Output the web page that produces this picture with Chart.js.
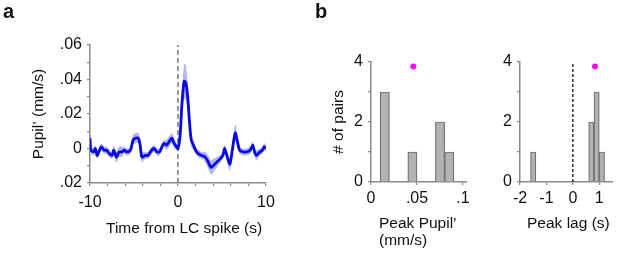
<!DOCTYPE html>
<html>
<head>
<meta charset="utf-8">
<script src="https://cdn.jsdelivr.net/npm/chart.js@4"></script>
<style>
  html, body { margin: 0; padding: 0; background: #fff; }
  #wrap { position: relative; width: 617px; height: 255px; }
  .panel { position: absolute; top: 0; height: 255px; }
</style>
</head>
<body>
<div id="wrap">
  <div class="panel" style="left:0;width:300px"><canvas id="pupilChart"></canvas></div>
  <div class="panel" style="left:300px;width:175px"><canvas id="peakChart"></canvas></div>
  <div class="panel" style="left:475px;width:142px"><canvas id="lagChart"></canvas></div>
</div>
<script>
// panel a: pupil derivative around LC spikes (mean and band half-width, mm/s)
const spikeTimes = [-10, -9.9, -9.6, -9.4, -9.2, -9.0, -8.7, -8.4, -8.1, -7.8, -7.5, -7.3, -7.0, -6.7, -6.4, -6.1,
    -5.8, -5.4, -5.1, -4.8, -4.5, -4.3, -4.1, -3.7, -3.4, -3.0, -2.7, -2.4, -2.1, -1.9, -1.6, -1.3, -1.0, -0.7,
    -0.45, -0.15, 0, 0.23, 0.45, 0.7, 0.9, 1.1, 1.3, 1.5, 1.75, 2.0, 2.3, 2.7, 3.1, 3.45, 3.75, 4.0, 4.4, 4.8,
    5.1, 5.3, 5.6, 5.9, 6.2, 6.5, 6.8, 7.0, 7.4, 7.8, 8.2, 8.5, 8.7, 8.9, 9.3, 9.6, 9.8, 10];
const pupilMean = [0.006, -0.001, -0.002, 0.000, -0.004, -0.002, 0.001, -0.001, -0.001, -0.003, -0.004, -0.001,
    -0.005, -0.002, -0.002, -0.001, -0.002, -0.001, 0.005, 0.006, 0.006, 0.002, -0.005, -0.004, -0.004, -0.001,
    0.000, -0.002, -0.002, 0.000, 0.003, 0.002, 0.004, 0.006, 0.003, 0.001, 0.000, 0.007, 0.026, 0.039, 0.038,
    0.030, 0.016, 0.005, 0.002, -0.001, -0.003, -0.004, -0.005, -0.008, -0.011, -0.010, -0.008, -0.006, -0.004,
    0.000, -0.005, -0.009, 0.000, 0.009, 0.003, -0.001, -0.002, -0.002, -0.001, 0.002, -0.002, -0.004, -0.002,
    -0.001, 0.001, 0.000];
const pupilSem = [0.002, 0.002, 0.002, 0.002, 0.002, 0.002, 0.002, 0.002, 0.002, 0.002, 0.002, 0.003,
    0.003, 0.003, 0.003, 0.002, 0.002, 0.002, 0.003, 0.003, 0.003, 0.003, 0.003, 0.002, 0.002, 0.002,
    0.002, 0.002, 0.002, 0.002, 0.002, 0.003, 0.003, 0.003, 0.003, 0.002, 0.002, 0.003, 0.006, 0.010, 0.010,
    0.008, 0.005, 0.004, 0.003, 0.002, 0.002, 0.002, 0.003, 0.004, 0.004, 0.004, 0.003, 0.002, 0.002,
    0.002, 0.003, 0.004, 0.003, 0.005, 0.003, 0.002, 0.002, 0.002, 0.002, 0.002, 0.002, 0.003, 0.002,
    0.002, 0.002, 0.002];
const pupilYTicks = [-0.02, -0.01, 0, 0.01, 0.02, 0.03, 0.04, 0.05, 0.06];
const pupilYLabels = ['.02', '', '0', '', '.02', '', '.04', '', '.06'];
const pupilXTicks = [-10, -8, -6, -4, -2, 0, 2, 4, 6, 8, 10];
const pupilXLabels = ['-10', '', '', '', '', '0', '', '', '', '', '10'];

// panel b: histograms over pairs
const countTicks = [0, 1, 2, 3, 4];
const countLabels = ['0', '', '2', '', '4'];
const peakBinCenters = [0.015, 0.045, 0.075, 0.085];
const peakCounts = [3, 1, 2, 1];
const peakXTicks = [0, 0.05, 0.1];
const peakXLabels = ['0', '.05', '.1'];
const peakMarker = { x: 0.046, y: 3.85 };
const lagBinCenters = [-1.5, 0.7, 0.9, 1.1];
const lagCounts = [1, 2, 3, 1];
const lagXTicks = [-2, -1, 0, 1];
const lagXLabels = ['-2', '-1', '0', '1'];
const lagMarker = { x: 0.84, y: 3.85 };

const FONT = "'Liberation Sans', Arial, sans-serif";
const AXIS_GRAY = '#8a8a8a';
Chart.defaults.font.family = FONT;
Chart.defaults.font.size = 16;
Chart.defaults.color = '#111';

function axis(o) {
    return {
        type: 'linear',
        min: o.min,
        max: o.max,
        offset: false,
        afterBuildTicks: s => { s.ticks = o.ticks.map(v => ({ value: v })); },
        afterFit: s => { if (s.isHorizontal()) s.height = o.size; else s.width = o.size; },
        border: { display: true, color: AXIS_GRAY, width: 1.5 },
        grid: { display: true, offset: false, drawOnChartArea: false, drawTicks: true, tickLength: 3, color: AXIS_GRAY, lineWidth: 1.2 },
        ticks: { autoSkip: false, maxRotation: 0, padding: o.pad ?? 5, font: { size: 16 }, callback: (v, i) => o.labels[i] },
        title: o.title ? { display: true, text: o.title, font: { size: 15.5 }, padding: { top: 29, bottom: 0 } } : { display: false }
    };
}

// plain text drawn on the canvas (panel letters, x titles)
function textPlugin(items) {
    return {
        id: 'panelText',
        afterDraw(chart) {
            const ctx = chart.ctx;
            ctx.save();
            ctx.fillStyle = '#111';
            ctx.textBaseline = 'alphabetic';
            items.forEach(t => {
                ctx.font = t.font;
                ctx.textAlign = t.align || 'left';
                ctx.fillText(t.text, t.x, t.y);
            });
            ctx.restore();
        }
    };
}

const baseOptions = (padding, scales) => ({
    responsive: true,
    maintainAspectRatio: false,
    animation: false,
    layout: { padding },
    plugins: { legend: { display: false }, tooltip: { enabled: false } },
    scales
});

// ---- panel a ----
new Chart(document.getElementById('pupilChart'), {
    type: 'line',
    data: {
        datasets: [
            {
                data: spikeTimes.map((t, i) => ({ x: t, y: pupilMean[i] })),
                borderColor: '#0a0ae0', borderWidth: 2.8, pointRadius: 0, tension: 0.25, fill: false, order: 0
            },
            {
                data: [{ x: 0, y: -0.02 }, { x: 0, y: 0.06 }],
                borderColor: '#7a7a7a', borderWidth: 1.5, borderDash: [5, 3], pointRadius: 0, fill: false, order: 1
            },
            {
                data: spikeTimes.map((t, i) => ({ x: t, y: pupilMean[i] + pupilSem[i] })),
                borderWidth: 0, pointRadius: 0, tension: 0.25, fill: '+1', backgroundColor: '#b3b6f5', order: 2
            },
            {
                data: spikeTimes.map((t, i) => ({ x: t, y: pupilMean[i] - pupilSem[i] })),
                borderWidth: 0, pointRadius: 0, tension: 0.25, fill: false, order: 3
            }
        ]
    },
    options: baseOptions({ left: 0, top: 45, right: 34, bottom: 0 }, {
        x: axis({ min: -10, max: 10, ticks: pupilXTicks, labels: pupilXLabels, size: 72, pad: 7 }),
        y: axis({ min: -0.02, max: 0.06, ticks: pupilYTicks, labels: pupilYLabels, size: 90, title: 'Pupil\u2019 (mm/s)' })
    }),
    plugins: [textPlugin([
        { text: 'a', x: 3, y: 18, font: `bold 20px ${FONT}` },
        { text: 'Time from LC spike (s)', x: 106, y: 233, font: `15.5px ${FONT}` }
    ])]
});

// ---- panel b, histograms ----
function histDatasets(centers, counts, marker, withZeroLine) {
    const sets = [
        {
            type: 'bar',
            data: centers.map((c, i) => ({ x: c, y: counts[i] })),
            backgroundColor: '#b3b3b3', borderColor: '#6e6e6e', borderWidth: 1.2,
            barPercentage: 1, categoryPercentage: 1, order: 2
        },
        {
            type: 'scatter',
            data: [marker],
            pointRadius: 3, pointBackgroundColor: '#ff00ff', pointBorderWidth: 0, order: 0
        }
    ];
    if (withZeroLine) {
        sets.push({
            type: 'line',
            data: [{ x: 0, y: 0 }, { x: 0, y: 4 }],
            borderColor: '#111', borderWidth: 1.3, borderDash: [3, 2], pointRadius: 0, fill: false, order: 1
        });
    }
    return sets;
}

new Chart(document.getElementById('peakChart'), {
    type: 'bar',
    data: { datasets: histDatasets(peakBinCenters, peakCounts, peakMarker, false) },
    options: baseOptions({ left: 0, top: 62, right: 8, bottom: 0 }, {
        x: axis({ min: 0, max: 0.1043, ticks: peakXTicks, labels: peakXLabels, size: 73, pad: 4 }),
        y: axis({ min: 0, max: 4, ticks: countTicks, labels: countLabels, size: 71, title: '# of pairs' })
    }),
    plugins: [textPlugin([
        { text: 'b', x: 15, y: 18, font: `bold 20px ${FONT}` },
        { text: 'Peak Pupil\u2019', x: 79, y: 228, font: `15.5px ${FONT}` },
        { text: '(mm/s)', x: 79, y: 244.5, font: `15.5px ${FONT}` }
    ])]
});

new Chart(document.getElementById('lagChart'), {
    type: 'bar',
    data: { datasets: histDatasets(lagBinCenters, lagCounts, lagMarker, true) },
    options: baseOptions({ left: 0, top: 62, right: 2, bottom: 0 }, {
        x: axis({ min: -2, max: 1.52, ticks: lagXTicks, labels: lagXLabels, size: 73, pad: 4 }),
        y: axis({ min: 0, max: 4, ticks: countTicks, labels: countLabels, size: 45 })
    }),
    plugins: [textPlugin([
        { text: 'Peak lag (s)', x: 52, y: 228, font: `15.5px ${FONT}` }
    ])]
});
</script>
</body>
</html>
